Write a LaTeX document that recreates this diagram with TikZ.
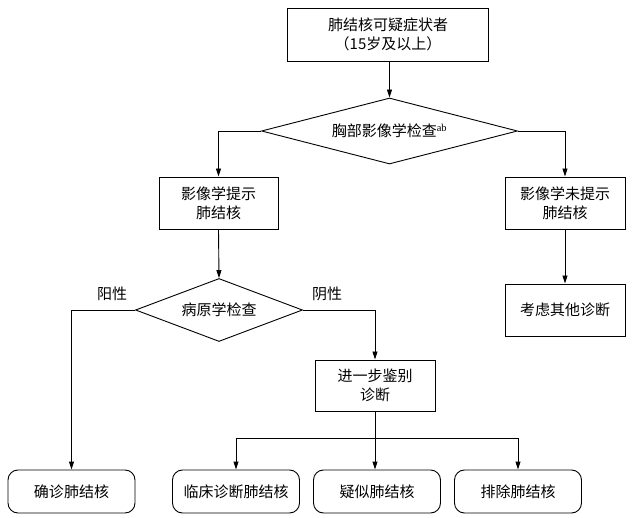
\documentclass[tikz,border=0pt]{standalone}
\usepackage{fontspec}
\setmainfont{Liberation Serif}
\newfontfamily\cjk{Noto Sans CJK SC}
\usetikzlibrary{shapes.geometric,arrows.meta}
\begin{document}
\begin{tikzpicture}[x=1pt,y=-1pt,
  every node/.style={font=\cjk\fontsize{15}{19}\selectfont, align=center, inner sep=0pt},
  box/.style={draw, line width=0.9pt, rectangle},
  rbox/.style={draw, line width=0.9pt, rectangle, rounded corners=10pt, minimum width=127pt, minimum height=43pt},
  dia/.style={draw, line width=0.9pt, diamond},
  conn/.style={line width=0.9pt},
  arr/.style={line width=0.9pt, -{Triangle[length=8pt,width=5pt]}},
  lbl/.style={font=\cjk\fontsize{15}{19}\selectfont}
]
\useasboundingbox (0,0) rectangle (640,518);
\node[box, minimum width=201pt, minimum height=53pt] (top) at (388,34.5) {肺结核可疑症状者\\（15岁及以上）};
\node[dia, aspect=3.9, minimum width=256pt, minimum height=66pt] (d1) at (389.5,131) {胸部影像学检查\textsuperscript{\rmfamily ab}};
\node[box, minimum width=119pt, minimum height=52pt] (b2) at (218.5,203) {影像学提示\\肺结核};
\node[box, minimum width=120pt, minimum height=52pt] (b3) at (565,203) {影像学未提示\\肺结核};
\node[box, minimum width=120pt, minimum height=52pt] (b4) at (565,310) {考虑其他诊断};
\node[dia, aspect=2.65, minimum width=167pt, minimum height=63pt] (d2) at (219,310) {病原学检查};
\node[lbl] (pos) at (112,294) {阳性};
\node[lbl] (neg) at (327,294) {阴性};
\node[box, minimum width=120pt, minimum height=51pt] (b5) at (375,385.5) {进一步鉴别\\诊断};
\node[rbox] (r1) at (71.5,491.5) {确诊肺结核};
\node[rbox] (r2) at (236,491.5) {临床诊断肺结核};
\node[rbox] (r3) at (377,491.5) {疑似肺结核};
\node[rbox] (r4) at (518,491.5) {排除肺结核};
\coordinate (jn) at (375,438);

\draw[arr] (top.south -| d1.north) -- (d1.north);
\draw[arr] (d1.west) -| (b2.north);
\draw[arr] (d1.east) -| (b3.north);
\draw[arr] (b3.south) -- (b4.north);
\draw[arr] (b2.south) -- (d2.north);
\draw[arr] (d2.west) -| (r1.north);
\draw[arr] (d2.east) -| (b5.north);
\draw[conn] (b5.south) -- (jn);
\draw[arr] (jn) -| (r2.north);
\draw[arr] (jn) -| (r4.north);
\draw[arr] (jn) -- (jn |- r3.north);
\end{tikzpicture}
\end{document}
